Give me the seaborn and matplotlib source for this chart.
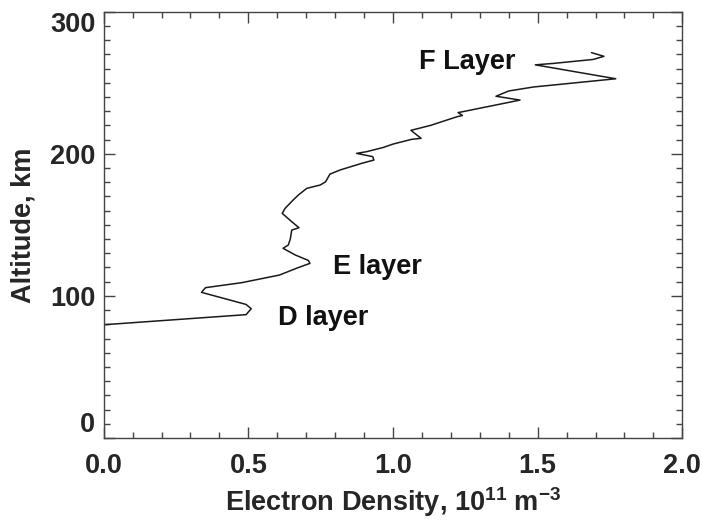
import matplotlib
matplotlib.use("Agg")
import matplotlib.pyplot as plt
import seaborn as sns
import pandas as pd
from matplotlib.ticker import MultipleLocator

# Electron density profile (10^11 m^-3) vs altitude (km)
density = [0.000, 0.492, 0.510, 0.492, 0.338, 0.352, 0.477, 0.608, 0.667, 0.713,
           0.707, 0.662, 0.620, 0.638, 0.645, 0.650, 0.675, 0.650, 0.617, 0.627,
           0.655, 0.673, 0.702, 0.748, 0.767, 0.782, 0.817, 0.892, 0.934, 0.930,
           0.874, 0.909, 0.967, 1.001, 1.065, 1.097, 1.062, 1.130, 1.220, 1.240,
           1.225, 1.250, 1.439, 1.356, 1.400, 1.485, 1.770, 1.492, 1.554, 1.692,
           1.729, 1.686]
altitude = [79.7, 86.8, 91.0, 94.0, 102.5, 105.8, 109.3, 114.7, 119.5, 122.9,
            125.0, 128.8, 133.5, 135.8, 140.0, 146.3, 148.0, 152.2, 158.1, 161.6,
            167.5, 171.0, 175.7, 178.0, 180.3, 185.7, 188.6, 193.3, 195.6, 198.0,
            200.3, 201.5, 204.5, 206.9, 210.2, 210.9, 216.5, 220.0, 226.0, 227.0,
            229.0, 230.0, 237.8, 240.5, 244.2, 247.0, 252.8, 262.6, 263.6, 266.4,
            268.6, 271.2]

layer_labels = ["F Layer", "E layer", "D layer"]
layer_x = [1.256, 0.945, 0.758]
layer_y = [264.6, 120.3, 84.4]

x_ticks = [0.0, 0.5, 1.0, 1.5, 2.0]
x_ticklabels = ["0.0", "0.5", "1.0", "1.5", "2.0"]
y_ticks = [0, 100, 200, 300]
y_ticklabels = ["0", "100", "200", "300"]

FS = 19.5

sns.set_theme(style="ticks")
plt.rcParams["font.family"] = ["Liberation Sans", "DejaVu Sans"]
plt.rcParams["font.weight"] = "bold"
plt.rcParams["mathtext.fontset"] = "custom"
plt.rcParams["mathtext.rm"] = "Liberation Sans:bold"
plt.rcParams["mathtext.default"] = "rm"

fig = plt.figure(figsize=(7.02, 5.22), dpi=100)
ax = fig.add_axes([103.7 / 702, 1 - 438 / 522, (682.3 - 103.7) / 702, (438 - 11.7) / 522])

df = pd.DataFrame({"density": density, "altitude": altitude})
sns.lineplot(data=df, x="density", y="altitude", sort=False, estimator=None,
             color="#1a1a1a", linewidth=1.1, ax=ax)

ax.set_xlim(0, 2.0)
ax.set_ylim(0, 300)
ax.set_xticks(x_ticks)
ax.set_xticklabels(x_ticklabels)
ax.set_yticks(y_ticks)
ax.set_yticklabels(y_ticklabels)
ax.xaxis.set_minor_locator(MultipleLocator(0.1))
ax.yaxis.set_minor_locator(MultipleLocator(10))

for s in ax.spines.values():
    s.set_color("#444444")
    s.set_linewidth(1.0)
    s.set_visible(True)

ax.tick_params(which="both", direction="in", top=True, right=True,
               color="#444444", width=1.0)
ax.tick_params(which="major", length=8)
ax.tick_params(which="minor", length=4.5)
ax.tick_params(axis="x", which="major", pad=11, labelsize=FS)
ax.tick_params(axis="y", which="major", pad=6, labelsize=FS)

for lab in ax.get_xticklabels() + ax.get_yticklabels():
    lab.set_fontweight("bold")
ylabs = ax.get_yticklabels()
ylabs[0].set_verticalalignment("bottom")
ylabs[-1].set_verticalalignment("top")

ax.set_xlabel(r"Electron Density, 10$^{11}$ m$^{-3}$", fontsize=FS,
              fontweight="bold", labelpad=4)
ax.set_ylabel("Altitude, km", fontsize=FS, fontweight="bold", labelpad=10)

for t, xx, yy in zip(layer_labels, layer_x, layer_y):
    ax.text(xx, yy, t, fontsize=FS, fontweight="bold", ha="center", va="center",
            color="#111111")

fig.savefig("out.png", dpi=100)
